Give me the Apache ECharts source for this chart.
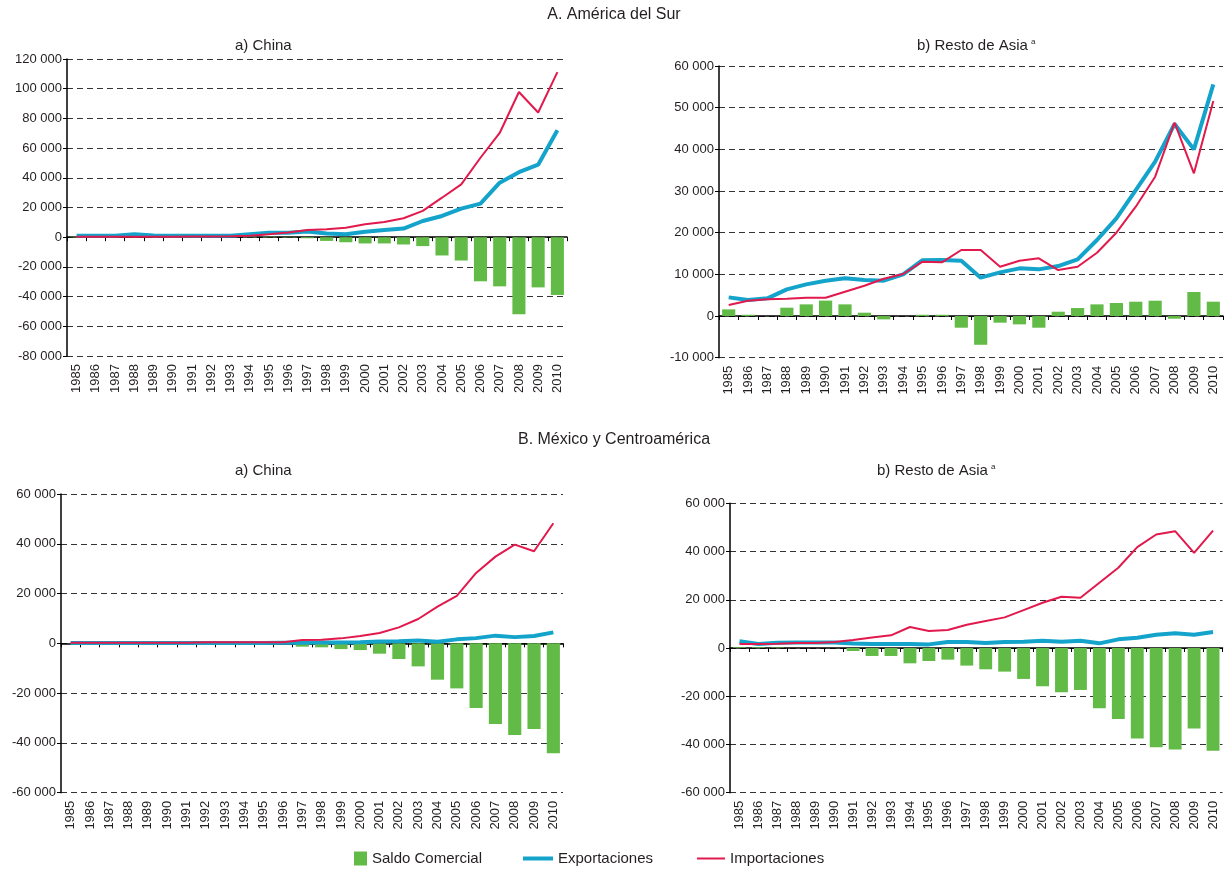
<!DOCTYPE html>
<html>
<head>
<meta charset="utf-8">
<script src="https://cdn.jsdelivr.net/npm/echarts@6/dist/echarts.min.js"></script>
<style>
  html, body { margin: 0; padding: 0; background: #fff; }
  #chart { width: 1228px; height: 869px; }
</style>
</head>
<body>
<div id="chart"></div>
<script>
const years = ['1985', '1986', '1987', '1988', '1989', '1990', '1991', '1992', '1993', '1994', '1995', '1996', '1997',
  '1998', '1999', '2000', '2001', '2002', '2003', '2004', '2005', '2006', '2007', '2008', '2009', '2010']

// A. América del Sur — a) China
const surChinaSaldo = [300, 0, 0, 600, 300, 200, 200, 100, 0, 300, 300, -200, -700, -2500, -3400, -4200, -4200, -4900,
  -6000, -12300, -15700, -29700, -33100, -51900, -33800, -38900]
const surChinaExpo = [1000, 1000, 1000, 2000, 1200, 1000, 1000, 1000, 1000, 2000, 3000, 3000, 3800, 2500, 2000, 3600,
  4900, 5800, 10900, 14300, 19200, 22600, 36700, 43800, 48800, 72000]
const surChinaImpo = [300, 300, 300, 300, 300, 300, 400, 500, 600, 1000, 2000, 3100, 4900, 5400, 6300, 8700, 10300,
  12800, 17700, 26600, 35600, 53500, 70200, 97800, 84000, 111200]

// A. América del Sur — b) Resto de Asia
const surAsiaSaldo = [1600, 300, 0, 2000, 2800, 3700, 2800, 800, -800, 0, 300, 300, -2800, -6900, -1600, -2000, -2800,
  1040, 1920, 2800, 3120, 3440, 3680, -640, 5760, 3440]
const surAsiaExpo = [4480, 3840, 4240, 6400, 7600, 8480, 9040, 8640, 8480, 10000, 13400, 13440, 13280, 9200, 10480,
  11440, 11200, 12000, 13600, 18240, 23440, 30240, 37040, 46080, 40000, 55600]
const surAsiaImpo = [2640, 3680, 4000, 4160, 4400, 4400, 5840, 7280, 8960, 10080, 13040, 12880, 15840, 15840, 11840,
  13280, 13840, 11040, 11840, 15200, 20000, 26240, 33440, 46400, 34240, 51600]

// B. México y Centroamérica — a) China
const mexChinaSaldo = [0, 0, 0, 0, 0, 0, 0, 0, 0, 0, 0, -300, -1340, -1600, -2300, -2700, -4150, -6300, -9250, -14600,
  -18100, -26000, -32400, -36850, -34400, -44200]
const mexChinaExpo = [100, 100, 100, 100, 100, 100, 100, 100, 100, 100, 100, 200, 200, 300, 300, 400, 700, 800, 1100,
  600, 1600, 2100, 3100, 2500, 2950, 4400]
const mexChinaImpo = [200, 200, 200, 200, 200, 200, 200, 400, 400, 400, 400, 400, 1340, 1470, 2000, 2950, 4150, 6430,
  9780, 14740, 19030, 28270, 34840, 39660, 36980, 48240]

// B. México y Centroamérica — b) Resto de Asia
const mexAsiaSaldo = [300, 300, 200, 0, 0, 0, -1240, -3300, -3300, -6350, -5400, -4830, -7300, -8830, -9800, -12830,
  -15870, -18350, -17400, -24980, -29400, -37540, -41130, -42100, -33400, -42640]
const mexAsiaExpo = [2760, 1650, 2200, 2300, 2300, 2300, 1900, 1650, 1650, 1650, 1500, 2480, 2480, 2070, 2480, 2620,
  3040, 2620, 3040, 1930, 3590, 4280, 5520, 6070, 5520, 6620]
const mexAsiaImpo = [1650, 1650, 1800, 2070, 2070, 2480, 3300, 4400, 5240, 8700, 7040, 7450, 9660, 11180, 12700, 15730,
  18770, 21250, 20840, 27050, 33260, 41810, 47060, 48430, 39460, 48700]

const green = '#63bb47'
const blue = '#14a3ca'
const red = '#e2194c'
const textColor = '#231f20'
const font = '"Liberation Sans", Arial, sans-serif'

const fmt = (v) => String(v).replace(/\B(?=(\d{3})+(?!\d))/g, ' ')

const panels = [
  {grid: {left: 67, top: 59, width: 500, height: 297}, min: -80000, max: 120000, interval: 20000,
    saldo: surChinaSaldo, expo: surChinaExpo, impo: surChinaImpo},
  {grid: {left: 719, top: 66, width: 504, height: 291.7}, min: -10000, max: 60000, interval: 10000,
    saldo: surAsiaSaldo, expo: surAsiaExpo, impo: surAsiaImpo},
  {grid: {left: 61, top: 494, width: 502, height: 298.7}, min: -60000, max: 60000, interval: 20000,
    saldo: mexChinaSaldo, expo: mexChinaExpo, impo: mexChinaImpo},
  {grid: {left: 730, top: 503.3, width: 492.5, height: 289.4}, min: -60000, max: 60000, interval: 20000,
    saldo: mexAsiaSaldo, expo: mexAsiaExpo, impo: mexAsiaImpo},
]

const grids = []
const xAxes = []
const yAxes = []
const series = []

panels.forEach((p, i) => {
  grids.push(p.grid)
  // eje en cero: linea y marcas
  xAxes.push({
    type: 'category', gridIndex: i, data: years, position: 'bottom',
    axisLine: {onZero: true, lineStyle: {color: '#000', width: 1.5}},
    axisTick: {show: true, length: 4, interval: 0, lineStyle: {color: '#000', width: 1}},
    axisLabel: {show: false},
  })
  // etiquetas de años abajo
  xAxes.push({
    type: 'category', gridIndex: i, data: years, position: 'bottom',
    axisLine: {show: false, onZero: false},
    axisTick: {show: false},
    axisLabel: {interval: 0, rotate: 90, margin: 8, fontSize: 13, color: textColor, fontFamily: font},
  })
  yAxes.push({
    type: 'value', gridIndex: i, min: p.min, max: p.max, interval: p.interval,
    axisLine: {show: true, lineStyle: {color: '#000', width: 1.5}},
    axisTick: {show: true, length: 4, lineStyle: {color: '#000'}},
    axisLabel: {formatter: fmt, fontSize: 13, color: textColor, fontFamily: font, margin: 5},
    splitLine: {lineStyle: {color: '#333', type: [6, 4], width: 1}},
  })
  series.push({
    name: 'Saldo Comercial', type: 'bar', xAxisIndex: i * 2, yAxisIndex: i,
    data: p.saldo, barCategoryGap: '32%', itemStyle: {color: green}, z: 2,
  })
  series.push({
    name: 'Exportaciones', type: 'line', xAxisIndex: i * 2, yAxisIndex: i,
    data: p.expo, symbol: 'none', lineStyle: {color: blue, width: 4}, itemStyle: {color: blue}, z: 3,
  })
  series.push({
    name: 'Importaciones', type: 'line', xAxisIndex: i * 2, yAxisIndex: i,
    data: p.impo, symbol: 'none', lineStyle: {color: red, width: 2}, itemStyle: {color: red}, z: 4,
  })
})

const titleStyle = {color: textColor, fontFamily: font, fontWeight: 'normal', fontSize: 15,
  rich: {sup: {fontSize: 8, color: textColor, fontFamily: font, padding: [0, 0, 8, 3]}}}
const mainStyle = {color: textColor, fontFamily: font, fontWeight: 'normal', fontSize: 16}

const legendText = {color: textColor, fontFamily: font, fontSize: 15}

let option = {
  backgroundColor: '#fff',
  animation: false,
  title: [
    {text: 'A. América del Sur', left: 'center', top: 7, padding: 0, textStyle: mainStyle},
    {text: 'a) China', left: 235, top: 38, padding: 0, textStyle: titleStyle},
    {text: 'b) Resto de Asia{sup|a}', left: 917, top: 38, padding: 0, textStyle: titleStyle},
    {text: 'B. México y Centroamérica', left: 'center', top: 432, padding: 0, textStyle: mainStyle},
    {text: 'a) China', left: 235, top: 463, padding: 0, textStyle: titleStyle},
    {text: 'b) Resto de Asia{sup|a}', left: 877, top: 463, padding: 0, textStyle: titleStyle},
  ],
  legend: [
    {data: ['Saldo Comercial'], left: 354, top: 851, padding: 0, icon: 'rect', itemWidth: 13, itemHeight: 14,
      itemGap: 4, textStyle: legendText},
    {data: ['Exportaciones'], left: 523, top: 851, padding: 0, icon: 'rect', itemWidth: 30, itemHeight: 4,
      textStyle: legendText},
    {data: ['Importaciones'], left: 697, top: 851, padding: 0, icon: 'rect', itemWidth: 28, itemHeight: 2,
      textStyle: legendText},
  ],
  grid: grids,
  xAxis: xAxes,
  yAxis: yAxes,
  series: series,
}

const myChart = echarts.init(document.getElementById('chart'), null, {renderer: 'canvas'})
myChart.setOption(option)
</script>
</body>
</html>
